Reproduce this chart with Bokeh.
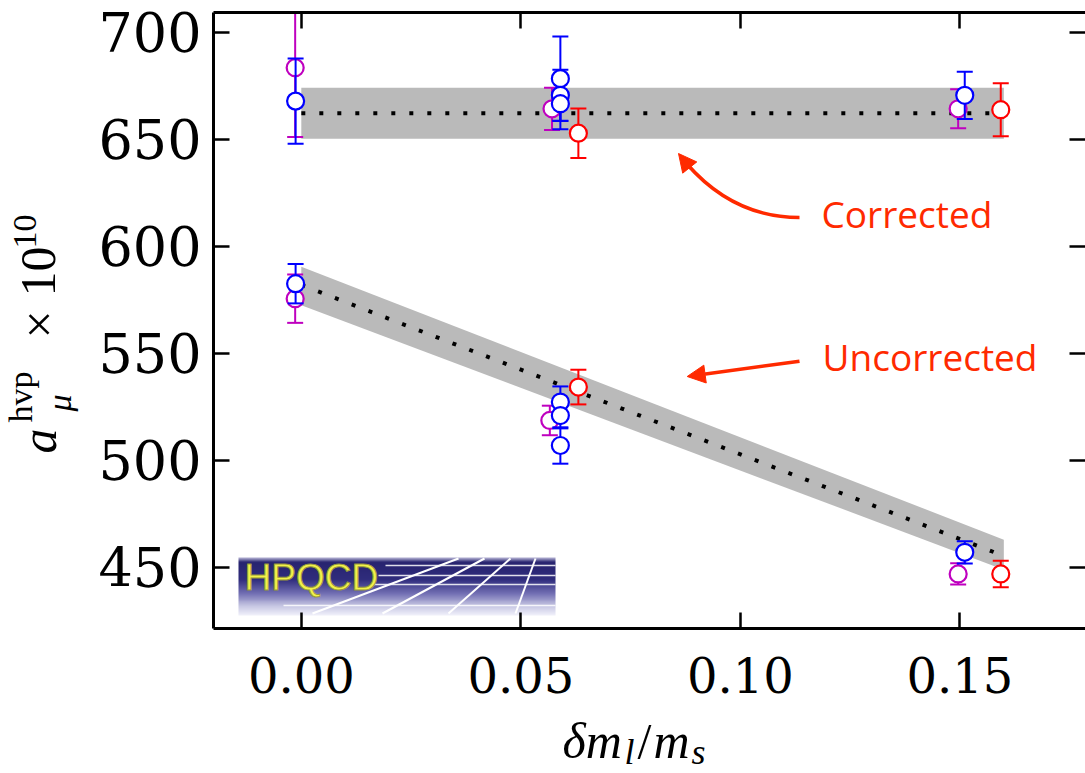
import numpy as np
from bokeh.plotting import figure
from bokeh.layouts import row, column
from bokeh.models import (Range1d, LinearAxis, FixedTicker, PrintfTickFormatter,
                          Label, Arrow, NormalHead)
from bokeh.embed import file_html
from bokeh.resources import INLINE

# ---------------- data ----------------
mag_x = [-0.0014, 0.0571, 0.1496, -0.0014, 0.0566, 0.1496]
mag_y = [683.5, 664.3, 664.3, 575.6, 518.7, 447.0]
mag_err = [32.4, 9.9, 9.1, 11.3, 6.9, 5.0]

blue_x = [-0.0013, 0.0590, 0.0590, 0.0590, 0.1511, -0.0013, 0.0590, 0.0590, 0.0590, 0.1511]
blue_y = [667.9, 678.4, 670.6, 666.7, 670.6, 582.6, 527.3, 521.0, 507.0, 457.1]
blue_err = [19.9, 19.7, 12.0, 12.0, 11.0, 9.2, 7.3, 6.0, 8.5, 5.2]

red_x = [0.0631, 0.1593, 0.0631, 0.1593]
red_y = [652.9, 663.9, 534.3, 447.0]
red_err = [11.6, 12.4, 8.1, 6.2]

fit_x = [0.0, 0.16]
corr_fit = [662.2, 662.2]
corr_lo = [650.3, 650.3]
corr_hi = [674.2, 674.2]
unc_fit = [582.0, 455.4]
unc_lo = [572.5, 449.0]
unc_hi = [590.5, 463.0]

x_ticks = [0.0, 0.05, 0.10, 0.15]
y_ticks = [450, 500, 550, 600, 650, 700]

# ---------------- geometry ----------------
PAGE_W, PAGE_H = 1085, 773
YL_W = 80                      # width of the y-label strip
MAIN_H = 712                   # height of the main plot
X0, X1 = -0.02, 0.1786
Y0, Y1 = 421.5, 709.3
FL, FT, FW, FH = 213, 12, 872, 616   # frame position on the page

SERIF = "Liberation Serif"
K_SERIF = 0.3375   # (ascent-descent)/2 in em, for text_baseline="middle"
K_OPEN = 0.388
K_LSANS = 0.3465


def dx(px):
    return X0 + (px - FL) / FW * (X1 - X0)


def dy(py):
    return Y1 - (py - FT) / FH * (Y1 - Y0)


# ---------------- main figure ----------------
p = figure(width=PAGE_W - YL_W, height=MAIN_H,
           x_range=Range1d(X0, X1), y_range=Range1d(Y0, Y1),
           output_backend="svg", toolbar_location=None,
           min_border_left=FL - YL_W, min_border_right=0, min_border_top=FT,
           min_border_bottom=MAIN_H - FT - FH)
p.outline_line_color = None
p.grid.visible = False

p.add_layout(LinearAxis(), "above")
p.add_layout(LinearAxis(), "right")

for ax in p.xaxis:
    ax.ticker = FixedTicker(ticks=x_ticks)
    ax.formatter = PrintfTickFormatter(format="%.2f")
    ax.major_label_text_font_size = "48px"
for ax in p.yaxis:
    ax.ticker = FixedTicker(ticks=y_ticks)
    ax.major_label_text_font_size = "54px"
for ax in p.xaxis + p.yaxis:
    ax.major_tick_in = 16
    ax.major_tick_out = 0
    ax.major_tick_line_width = 2.5
    ax.major_tick_line_color = "black"
    ax.minor_tick_line_color = None
    ax.axis_line_width = 3
    ax.axis_line_color = "black"
    ax.major_label_text_font = "DejaVu Serif"
    ax.major_label_text_color = "black"

p.below[0].major_label_standoff = 28
p.left[0].major_label_standoff = 12
for ax in (p.above[0], p.right[0]):
    ax.major_label_text_font_size = "0px"
    ax.major_label_text_color = None
    ax.major_label_standoff = 0
p.right[0].axis_line_color = None

# ---------------- fit bands ----------------
GREY = "#bababa"
p.varea(x=fit_x, y1=corr_lo, y2=corr_hi, fill_color=GREY)
p.varea(x=fit_x, y1=unc_lo, y2=unc_hi, fill_color=GREY)
p.line(fit_x, corr_fit, line_color="black", line_width=4, line_dash="4 14")
p.line(fit_x, unc_fit, line_color="black", line_width=4, line_dash="4 14")


# ---------------- data with error bars ----------------
def errbars(xs, ys, es, color):
    lo = [y - e for y, e in zip(ys, es)]
    hi = [y + e for y, e in zip(ys, es)]
    p.segment(x0=xs, y0=lo, x1=xs, y1=hi, line_color=color, line_width=2)
    p.scatter(list(xs) + list(xs), lo + hi, marker="dash", size=16,
              line_color=color, line_width=2)
    p.scatter(xs, ys, marker="circle", size=17, line_color=color,
              fill_color="white", line_width=2.2)


errbars(mag_x, mag_y, mag_err, "#bf00bf")
errbars(blue_x, blue_y, blue_err, "#0000ff")
errbars(red_x, red_y, red_err, "#ff0000")

# ---------------- annotations ----------------
ARED = "#ff2a00"
p.add_layout(Label(x=dx(821), y=dy(227 - K_OPEN * 37), text="Corrected", text_color=ARED,
                   text_font="Open Sans", text_font_size="37px",
                   text_baseline="middle"))
p.add_layout(Label(x=dx(822), y=dy(370 - K_OPEN * 37), text="Uncorrected", text_color=ARED,
                   text_font="Open Sans", text_font_size="37px",
                   text_baseline="middle"))
p.quadratic(x0=[dx(799)], y0=[dy(217)], x1=[dx(686)], y1=[dy(163)],
            cx=[dx(733)], cy=[dy(217)], line_color=ARED, line_width=3.5)
p.add_layout(Arrow(end=NormalHead(size=18, fill_color=ARED, line_color=ARED),
                   x_start=dx(690), y_start=dy(168), x_end=dx(678), y_end=dy(153),
                   line_color=ARED, line_width=3.5))
p.add_layout(Arrow(end=NormalHead(size=18, fill_color=ARED, line_color=ARED),
                   x_start=dx(799), y_start=dy(360.7), x_end=dx(686.7), y_end=dy(376),
                   line_color=ARED, line_width=3.5))

# ---------------- HPQCD logo ----------------
stops_pos = [0.0, 0.15, 0.38, 0.62, 0.93, 1.0]
stops_r = [240, 200, 115, 48, 40, 175]
stops_g = [240, 200, 112, 45, 36, 172]
stops_b = [250, 228, 180, 125, 112, 208]
H, W = 60, 4
t = np.linspace(0, 1, H)
r = np.interp(t, stops_pos, stops_r).astype(np.uint32)
g = np.interp(t, stops_pos, stops_g).astype(np.uint32)
b = np.interp(t, stops_pos, stops_b).astype(np.uint32)
col = (255 << 24) | (b << 16) | (g << 8) | r
img = np.repeat(col[:, None], W, axis=1).astype(np.uint32)
lx0, lx1, ly0, ly1 = dx(238), dx(555), dy(615), dy(557)
p.image_rgba(image=[img], x=lx0, y=ly0, dw=lx1 - lx0, dh=ly1 - ly0)

hl = [(385, 565), (378, 575), (372, 584), (283, 605)]
p.segment(x0=[dx(a) for a, _ in hl], y0=[dy(c) for _, c in hl],
          x1=[dx(555)] * len(hl), y1=[dy(c) for _, c in hl],
          line_color="white", line_width=1.5, line_alpha=0.85)
sl = [((312, 613), (458, 558)), ((382, 613), (484, 558)),
      ((448, 613), (510, 558)), ((515, 613), (535, 558))]
p.segment(x0=[dx(a[0]) for a, _ in sl], y0=[dy(a[1]) for a, _ in sl],
          x1=[dx(c[0]) for _, c in sl], y1=[dy(c[1]) for _, c in sl],
          line_color="white", line_width=2)
p.add_layout(Label(x=dx(244), y=dy(590 - K_LSANS * 37), text="HPQCD", text_color="#f2f24a",
                   text_font="Liberation Sans", text_font_size="37px",
                   text_baseline="middle", text_outline_color="#9a9a3a"))

# ---------------- y label strip:  a_mu^hvp x 10^10 ----------------
yl = figure(width=YL_W, height=PAGE_H, x_range=Range1d(0, YL_W), y_range=Range1d(PAGE_H, 0),
            output_backend="svg", toolbar_location=None, min_border=0,
            x_axis_location=None, y_axis_location=None)
yl.outline_line_color = None
yl.grid.visible = False
R90 = np.pi / 2


def ylab(base_x, start_y, text, size, style="normal"):
    yl.add_layout(Label(x=base_x - K_SERIF * size, y=start_y, text=text, text_font=SERIF,
                        text_font_size=f"{size}px", text_font_style=style,
                        text_color="black", angle=R90,
                        text_baseline="middle", text_align="left"))


ylab(55, 453, "a", 50, "italic")
ylab(31, 422, "hvp", 34)
ylab(70, 411, "μ", 34, "italic")
ylab(55, 338, "×", 50)
ylab(55, 296, "10", 50)
ylab(36, 248, "10", 34)

# ---------------- x label strip:  delta m_l / m_s ----------------
xl = figure(width=PAGE_W - YL_W, height=PAGE_H - MAIN_H,
            x_range=Range1d(FL, PAGE_W), y_range=Range1d(PAGE_H, MAIN_H),
            output_backend="svg", toolbar_location=None,
            min_border_left=FL - YL_W, min_border_right=0,
            min_border_top=0, min_border_bottom=0,
            x_axis_location=None, y_axis_location=None)
xl.outline_line_color = None
xl.grid.visible = False


def xlab(left_x, base_y, text, size, style="normal"):
    xl.add_layout(Label(x=left_x, y=base_y - K_SERIF * size, text=text, text_font=SERIF,
                        text_font_size=f"{size}px", text_font_style=style,
                        text_color="black", text_baseline="middle", text_align="left"))


xlab(562, 757, "δm", 50, "italic")
xlab(624, 764, "l", 36, "italic")
xlab(637, 757, "/", 50)
xlab(653, 757, "m", 50, "italic")
xlab(691, 764, "s", 36, "italic")

layout = row(yl, column(p, xl, spacing=0), spacing=0)
open("out.html", "w").write(file_html(layout, INLINE))
